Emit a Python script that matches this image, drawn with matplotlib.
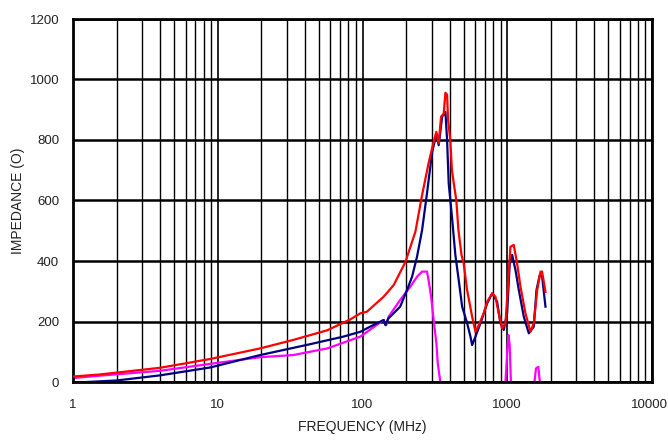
import matplotlib
matplotlib.use("Agg")
import matplotlib.pyplot as plt
import matplotlib.transforms as mtransforms
from matplotlib.ticker import FixedLocator, NullFormatter

plt.rcParams['font.family'] = ['Liberation Sans', 'DejaVu Sans']

red_f = [1.0, 1.54, 4.0, 8.86, 19.6, 33.2, 57.1, 82.4, 96.6, 107, 140, 164, 198, 232, 258, 286,
         310, 324, 336, 349, 364, 374, 384, 390, 404, 415, 427, 445, 460, 483, 500, 528, 572,
         603, 635, 688, 726, 787, 829, 873, 922, 972, 1007, 1052, 1109, 1170, 1234, 1336,
         1446, 1525, 1610, 1698, 1740, 1837]
red_z = [18, 25, 47, 76, 111, 139, 171, 207, 227, 232, 282, 320, 397, 497, 618, 723,
         794, 827, 789, 877, 887, 956, 950, 866, 800, 700, 657, 600, 502, 420, 392, 304, 216,
         166, 188, 227, 265, 293, 282, 227, 177, 194, 304, 447, 453, 392, 315, 227,
         166, 194, 304, 365, 365, 298]

blue_f = [1.24, 2.0, 4.0, 8.86, 19.6, 43.5, 73.7, 96.6, 113, 140, 144, 151, 182, 203, 220,
          238, 258, 279, 303, 324, 336, 355, 374, 384, 394, 415, 438, 462, 488, 528, 557,
          572, 603, 653, 726, 787, 851, 897, 946, 998, 1040, 1081, 1140, 1202, 1301, 1409,
          1525, 1592, 1678, 1740, 1837]
blue_z = [0, 5, 22, 48, 89, 125, 150, 166, 183, 205, 188, 210, 249, 304, 348,
          414, 502, 624, 761, 820, 783, 877, 893, 800, 657, 546, 420, 337, 249, 195, 150,
          122, 150, 194, 260, 293, 265, 194, 172, 227, 392, 420, 370, 304, 216, 161,
          183, 304, 354, 350, 249]

mag_f = [1.0, 1.54, 4.0, 8.86, 19.6, 33.2, 57.1, 96.6, 140, 146, 151, 182, 214, 238, 258,
         279, 286, 298, 310, 324, 331, 345, 946, 972, 1000, 1020, 1040, 1060, 1541, 1580,
         1640, 1678]
mag_z = [13, 21, 37, 60, 82, 89, 111, 150, 205, 188, 215, 271, 315, 348, 365,
         365, 337, 282, 205, 128, 62, 0, 0, 0, 100, 155, 120, 0, 0, 45,
         50, 0]

y_ticks = [0, 200, 400, 600, 800, 1000, 1200]
x_ticks = [1, 10, 100, 1000, 10000]
x_tick_labels = ["1", "10", "100", "1000", "10000"]

fig = plt.figure(figsize=(6.68, 4.4), dpi=100)
ax = fig.add_axes([73/668, 1 - 382/440, (652-73)/668, (382-19)/440])

# magenta: draw only the parts that leave the zero baseline (flat zero runs lie under the axis)
seg_f, seg_z = [mag_f[0]], [mag_z[0]]
for i in range(1, len(mag_f)):
    if mag_z[i] == 0 and mag_z[i - 1] == 0:
        if len(seg_f) > 1:
            ax.plot(seg_f, seg_z, color='#FF00FF', lw=1.6, zorder=2)
        seg_f, seg_z = [mag_f[i]], [mag_z[i]]
    else:
        seg_f.append(mag_f[i])
        seg_z.append(mag_z[i])
if len(seg_f) > 1:
    ax.plot(seg_f, seg_z, color='#FF00FF', lw=1.6, zorder=2)

ax.plot(blue_f, blue_z, color='#000080', lw=1.6, zorder=4)
ax.plot(red_f, red_z, color='#FF0000', lw=1.6, zorder=5)

ax.set_xscale('log')
ax.set_xlim(1, 10000)
ax.set_ylim(0, 1200)
ax.set_xticks(x_ticks)
ax.set_xticklabels(x_tick_labels)
minors = [m * 10**d for d in range(4) for m in range(2, 10)]
ax.xaxis.set_minor_locator(FixedLocator(minors))
ax.xaxis.set_minor_formatter(NullFormatter())
ax.set_yticks(y_ticks)

ax.grid(True, which='major', axis='x', color='black', lw=1.2)
ax.grid(True, which='minor', axis='x', color='black', lw=1.0)
ax.grid(True, which='major', axis='y', color='black', lw=1.8)
ax.set_axisbelow(True)

ax.tick_params(axis='both', which='both', length=0, labelsize=9.5, colors='#222222')
ax.tick_params(axis='x', pad=12)
ax.tick_params(axis='y', pad=10)
for s in ax.spines.values():
    s.set_color('black')
    s.set_linewidth(2)
    s.set_zorder(3)

last = ax.get_xticklabels()[-1]
last.set_transform(last.get_transform() + mtransforms.ScaledTranslation(-3/100, 0, fig.dpi_scale_trans))

ax.set_xlabel('FREQUENCY (MHz)', fontsize=10, labelpad=7, color='#222222')
ax.set_ylabel('IMPEDANCE (O)', fontsize=10, labelpad=3, color='#222222')

fig.savefig('out.png', dpi=100)
